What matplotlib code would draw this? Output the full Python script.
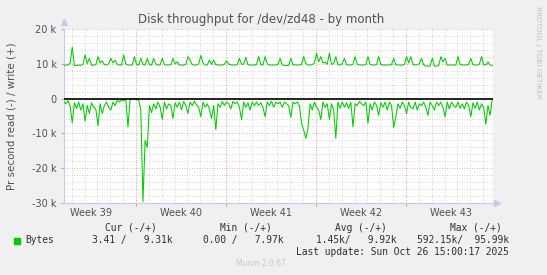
import numpy as np
import pandas as pd
import matplotlib
matplotlib.use("Agg")
import matplotlib.pyplot as plt
from matplotlib.ticker import FixedLocator, FuncFormatter

# Disk throughput for /dev/zd48 - munin month view, 4h samples (values in k)
start = "2025-09-23 09:00"
n_points = 201

write_k = [
    9.5, 9.6, 9.6, 10.2, 14.7, 9.4, 9.5, 9.6, 9.5, 9.8,
    12.5, 10.0, 11.5, 9.5, 9.6, 9.7, 12.0, 10.2, 10.8, 9.7,
    9.6, 10.0, 11.5, 10.2, 11.0, 9.8, 9.6, 9.6, 12.5, 9.9,
    9.6, 9.6, 9.6, 12.0, 9.8, 9.6, 11.5, 9.8, 9.6, 11.5,
    9.7, 9.6, 11.5, 9.9, 9.6, 9.6, 11.5, 9.7, 9.6, 9.6,
    9.7, 11.5, 9.9, 10.5, 9.6, 9.6, 9.6, 9.8, 12.0, 11.0,
    9.7, 9.6, 9.6, 9.9, 12.3, 10.2, 9.6, 9.6, 11.0, 9.8,
    11.0, 9.7, 9.6, 9.6, 9.6, 9.8, 10.8, 9.9, 9.7, 9.6,
    9.6, 9.7, 11.5, 9.8, 9.9, 11.8, 9.7, 9.6, 9.6, 9.6,
    9.8, 12.0, 9.7, 9.6, 12.0, 10.0, 9.6, 9.6, 9.6, 9.6,
    9.8, 11.5, 9.6, 9.5, 9.4, 9.5, 11.5, 9.7, 9.6, 9.6,
    9.6, 9.8, 12.0, 10.1, 9.6, 9.6, 9.7, 10.2, 13.0, 10.5,
    12.0, 10.2, 10.4, 9.8, 13.0, 9.8, 10.0, 12.0, 9.7, 9.6,
    10.0, 11.5, 9.7, 9.6, 9.6, 9.8, 12.0, 9.8, 9.6, 9.6,
    9.6, 9.7, 12.0, 9.8, 9.6, 9.6, 9.7, 12.0, 9.8, 9.6,
    9.6, 9.6, 9.6, 9.7, 11.5, 9.7, 9.6, 9.6, 9.6, 9.7,
    12.0, 10.2, 12.0, 9.8, 9.6, 9.7, 10.0, 11.5, 9.7, 9.3,
    9.3, 9.3, 11.5, 9.3, 9.3, 9.4, 12.0, 10.5, 11.5, 9.6,
    9.6, 9.6, 9.6, 9.6, 12.0, 9.8, 9.6, 9.6, 9.6, 9.8,
    11.5, 9.7, 9.6, 9.6, 9.9, 12.0, 9.7, 9.6, 10.5, 9.6,
    9.4,
]

read_k = [
    -0.8, -1.5, -0.6, -2.0, -7.0, -1.2, -2.9, -1.0, -3.3, -1.5,
    -6.5, -2.0, -4.3, -1.2, -2.5, -3.0, -7.8, -1.5, -4.3, -2.0,
    -1.0, -2.5, -3.3, -1.0, -2.0, -0.5, -1.0, -0.4, -0.6, -0.3,
    -8.1, -0.2, -0.1, -0.1, -0.2, -0.5, -3.3, -29.5, -12.0, -14.0,
    -2.0, -4.0, -1.5, -3.0, -1.0, -2.5, -6.0, -1.0, -3.0, -1.5,
    -2.0, -5.7, -1.2, -2.5, -1.0, -3.3, -0.8, -2.0, -4.3, -1.0,
    -2.0, -0.8, -1.8, -2.5, -5.2, -1.0, -2.5, -1.5, -3.0, -5.7,
    -2.0, -8.9, -1.5, -2.5, -0.8, -2.0, -1.0, -1.5, -3.0, -0.8,
    -1.5, -1.0, -2.5, -6.0, -1.0, -2.5, -1.2, -3.3, -1.0, -2.0,
    -1.0, -2.0, -1.2, -2.5, -5.2, -1.0, -2.0, -0.8, -2.5, -1.0,
    -1.5, -1.0, -2.5, -1.0, -1.5, -2.0, -5.4, -1.0, -1.5, -1.0,
    -2.0, -7.1, -9.0, -11.4, -8.6, -1.5, -3.3, -1.0, -2.5, -3.3,
    -6.0, -1.0, -2.5, -1.5, -6.0, -1.5, -3.3, -11.4, -1.0, -2.8,
    -1.0, -2.5, -1.2, -2.8, -1.0, -8.1, -1.5, -2.0, -0.8, -1.5,
    -2.0, -1.0, -7.1, -1.5, -3.3, -1.0, -2.0, -4.8, -1.2, -2.5,
    -1.0, -3.3, -1.0, -2.0, -8.3, -5.2, -1.5, -2.8, -1.0, -2.0,
    -4.3, -1.0, -2.5, -3.0, -1.0, -3.3, -1.5, -2.0, -1.0, -2.5,
    -4.8, -1.0, -2.0, -3.3, -1.0, -2.0, -1.0, -2.5, -5.2, -1.0,
    -3.0, -1.0, -2.0, -2.5, -1.0, -2.8, -1.5, -3.0, -1.0, -2.0,
    -5.2, -1.2, -2.8, -1.0, -3.3, -1.5, -2.5, -7.4, -2.0, -4.8,
    -0.1,
]

y_ticks = [-30000, -20000, -10000, 0, 10000, 20000]
week_labels = ["Week 39", "Week 40", "Week 41", "Week 42", "Week 43"]
week_starts = ["2025-09-22", "2025-09-29", "2025-10-06", "2025-10-13", "2025-10-20", "2025-10-27"]

legend_head = ["Cur (-/+)", "Min (-/+)", "Avg (-/+)", "Max (-/+)"]
legend_vals = ["3.41 /   9.31k", "0.00 /   7.97k", "1.45k/   9.92k", "592.15k/  95.99k"]
last_update = "Last update: Sun Oct 26 15:00:17 2025"

W, H = 547, 275
GREEN = "#00cc00"
BG = "#f0f0f0"

times = pd.date_range(start, periods=n_points, freq="4h")
write = np.array(write_k) * 1000
read = np.array(read_k) * 1000

fig = plt.figure(figsize=(W / 100, H / 100), dpi=100, facecolor=BG)
x0, x1, ytop, ybot = 63.5, 493, 28.7, 203.3
ax = fig.add_axes([x0 / W, 1 - ybot / H, (x1 - x0) / W, (ybot - ytop) / H])
ax.set_facecolor("white")

ax.set_xlim(pd.Timestamp("2025-09-23 08:40"), pd.Timestamp("2025-10-26 18:24"))
ax.set_ylim(-30000, 20000)

# grid: minor daily / every 2k, major weekly / every 10k
days = pd.date_range("2025-09-24", "2025-10-26", freq="D")
for d in days:
    ax.axvline(d, color="#c8c8c8", lw=0.6, ls=(0, (1, 2)), zorder=1)
for v in range(-28000, 20000, 2000):
    if v % 10000:
        ax.axhline(v, color="#c8c8c8", lw=0.6, ls=(0, (1, 2)), zorder=1)
for w in week_starts[1:5]:
    ax.axvline(pd.Timestamp(w), color="#f09090", lw=0.6, ls=(0, (1, 2)), zorder=1)
for v in y_ticks:
    ax.axhline(v, color="#f09090", lw=0.6, ls=(0, (1, 2)), zorder=1)

ax.plot(times, write, color=GREEN, lw=0.75, zorder=3)
ax.plot(times, read, color=GREEN, lw=0.75, zorder=3)
ax.axhline(0, color="black", lw=1.2, zorder=4)

for s in ["top", "right"]:
    ax.spines[s].set_visible(False)
for s in ["left", "bottom"]:
    ax.spines[s].set_color("#c8c8f0")
    ax.spines[s].set_linewidth(0.8)

# axis arrows
ax.plot([0], [1.04], marker="^", ms=4, color="#c8c8f0", transform=ax.transAxes, clip_on=False)
ax.plot([1.01], [0], marker=">", ms=4, color="#c8c8f0", transform=ax.transAxes, clip_on=False)

ax.yaxis.set_major_locator(FixedLocator(y_ticks))
ax.yaxis.set_major_formatter(FuncFormatter(lambda v, p: "0" if v == 0 else "%d k" % (v / 1000)))
ax.tick_params(axis="y", length=2, color="#f09090", labelsize=7, labelcolor="#505050", pad=3)

mids = [pd.Timestamp(w) + pd.Timedelta(hours=84) for w in week_starts[:5]]
ax.set_xticks([pd.Timestamp(w) for w in week_starts[1:5]])
ax.set_xticklabels([])
ax.tick_params(axis="x", length=2, color="#f09090")
for m, lab in zip(mids, week_labels):
    ax.text(m, -0.055, lab, transform=ax.get_xaxis_transform(), ha="center", va="center",
            fontsize=7, color="#505050")

fig.text(261 / W, 1 - 19 / H, "Disk throughput for /dev/zd48 - by month",
         ha="center", va="center", fontsize=8.5, color="#505050")
fig.text(12 / W, 1 - 116 / H, "Pr second read (-) / write (+)", rotation=90,
         ha="center", va="center", fontsize=7.4, color="#505050")
fig.text(538 / W, 1 - 6 / H, "RRDTOOL / TOBI OETIKER", rotation=270,
         ha="center", va="top", fontsize=5.2, color="#c0c0c0")

mono = dict(family="DejaVu Sans Mono", fontsize=6.9, color="#303030", va="center")
for x_end, h in zip([157, 272, 387, 502], legend_head):
    fig.text(x_end / W, 1 - 228 / H, h, ha="right", **mono)
for x_end, v in zip([172, 284, 396, 509], legend_vals):
    fig.text(x_end / W, 1 - 240 / H, v, ha="right", **mono)
fig.text(25 / W, 1 - 240 / H, "Bytes", ha="left", **mono)
fig.patches.append(plt.Rectangle((13.5 / W, 1 - 243.5 / H), 6 / W, 6 / H, color=GREEN,
                                 transform=fig.transFigure, figure=fig))
fig.text(509 / W, 1 - 252 / H, last_update, ha="right", **mono)
fig.text(261 / W, 1 - 264 / H, "Munin 2.0.67", ha="center", va="center",
         fontsize=5.5, color="#c8c8c8")

fig.savefig("out.png", dpi=100, facecolor=BG)
